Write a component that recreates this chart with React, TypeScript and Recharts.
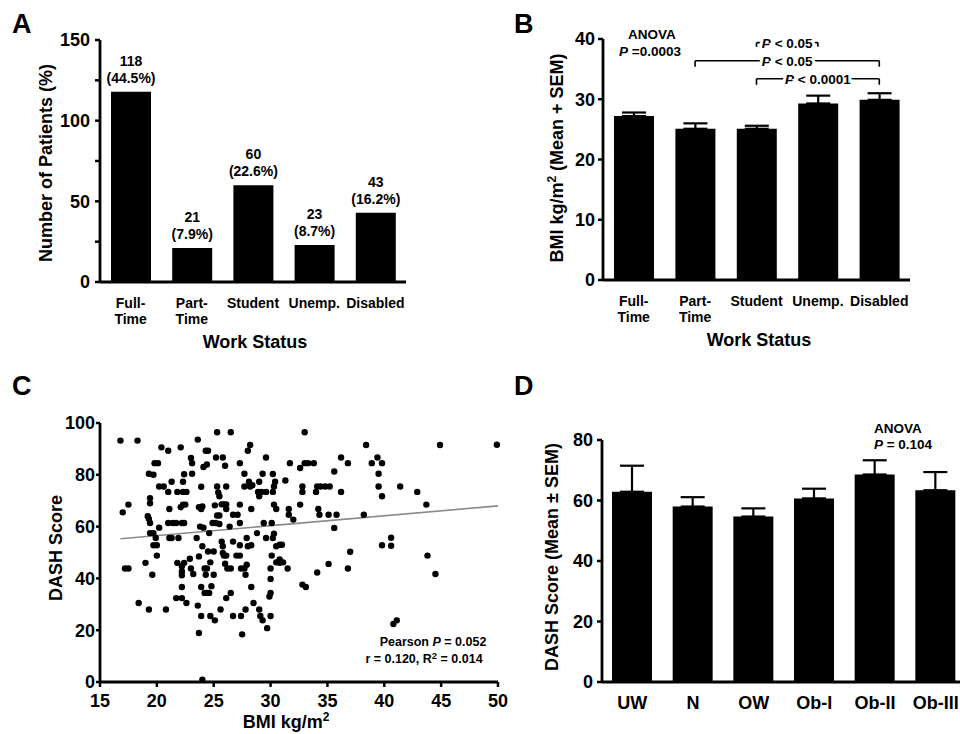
import React from "react";
import {
  BarChart,
  Bar,
  XAxis,
  YAxis,
  ErrorBar,
  LabelList,
  ScatterChart,
  Scatter,
  ReferenceLine,
} from "recharts";

const FONT = '"Liberation Sans", Arial, Helvetica, sans-serif';

// Panel A: work status counts
const workStatus = ["Full-Time", "Part-Time", "Student", "Unemp.", "Disabled"];
const patientCounts = [118, 21, 60, 23, 43];
const patientPct = [44.5, 7.9, 22.6, 8.7, 16.2];
const countTicks = [0, 25, 50, 75, 100, 125, 150];

// Panel B: BMI by work status
const bmiMean = [27.2, 25.1, 25.1, 29.3, 29.9];
const bmiSem = [0.6, 0.9, 0.5, 1.3, 1.1];
const bmiTicks = [0, 10, 20, 30, 40];
const bracketFrom = ["Student", "Part-Time", "Student"];
const bracketTo = ["Unemp.", "Disabled", "Disabled"];
const bracketY = [39.4, 36.4, 33.4];
const bracketTip = [38.7, 35.4, 32.4];
const bracketText = ["< 0.05", "< 0.05", "< 0.0001"];

// Panel C: BMI vs DASH scatter
const scatterBmi = [
  16.8, 17.0, 17.5, 17.2, 17.5, 18.3, 18.4, 19.0, 19.3, 19.2, 19.3, 19.3, 19.7, 19.4, 19.4, 19.4, 19.4, 19.6, 19.7, 19.9,
  19.7, 19.8, 20.1, 20.0, 20.0, 20.2, 20.4, 20.2, 20.6, 20.8, 21.0, 21.0, 21.1, 21.0, 21.4, 21.7, 21.1, 21.3, 21.3, 21.9,
  21.8, 21.7, 22.2, 21.8, 22.1, 22.2, 22.2, 22.2, 22.2, 22.1, 22.3, 22.5, 22.3, 22.4, 22.2, 22.4, 22.4, 22.3, 22.6, 22.6,
  22.9, 23.0, 23.1, 23.0, 23.2, 23.1, 23.6, 23.6, 23.5, 23.7, 23.9, 24.0, 23.7, 23.9, 23.7, 23.9, 23.9, 24.1, 23.8, 24.1,
  24.0, 24.0, 24.2, 24.4, 24.3, 24.5, 24.4, 24.2, 24.4, 24.6, 24.3, 24.5, 24.6, 24.7, 24.7, 24.8, 24.9, 25.2, 25.0, 25.0,
  25.1, 25.1, 25.2, 25.3, 25.3, 25.4, 25.5, 25.3, 25.5, 25.5, 25.6, 25.7, 25.9, 26.1, 25.7, 25.8, 25.8, 25.9, 25.8, 26.0,
  26.0, 26.1, 26.1, 26.1, 26.1, 26.2, 26.5, 26.4, 26.5, 26.5, 26.7, 26.7, 26.7, 27.1, 27.0, 27.3, 27.3, 27.3, 27.3, 27.3,
  27.4, 27.7, 27.4, 27.5, 27.7, 27.7, 27.8, 27.8, 27.9, 27.9, 28.0, 28.2, 28.0, 28.3, 28.1, 28.2, 28.4, 28.3, 28.3, 28.5,
  28.9, 29.2, 29.6, 28.8, 29.0, 29.0, 29.0, 29.1, 29.3, 29.3, 29.4, 29.6, 29.6, 29.7, 29.9, 30.0, 30.0, 30.0, 30.0, 30.1,
  30.2, 30.2, 30.3, 30.3, 30.2, 30.3, 30.1, 30.4, 30.5, 30.5, 30.8, 30.8, 30.5, 30.8, 31.0, 31.1, 31.3, 31.5, 31.6, 31.6,
  31.7, 32.0, 32.6, 32.6, 32.8, 32.8, 32.8, 33.1, 33.0, 33.0, 33.3, 33.8, 34.0, 34.1, 34.4, 34.8, 35.2, 34.1, 34.2, 34.3,
  35.1, 35.1, 35.8, 35.6, 35.6, 36.2, 36.2, 36.8, 36.8, 37.0, 38.2, 38.4, 38.9, 39.4, 39.5, 39.5, 39.8, 39.8, 39.8, 40.6,
  40.6, 40.8, 41.1, 41.4, 42.9, 43.7, 43.8, 44.5, 44.9, 49.9,
];
const scatterDash = [
  93.2, 65.5, 68.5, 43.8, 43.8, 93.2, 30.5, 46.0, 28.0, 64.0, 63.0, 80.4, 80.0, 71.0, 69.0, 61.4, 57.5, 41.4, 57.5, 55.6,
  52.8, 84.5, 84.5, 52.8, 48.8, 59.6, 90.6, 75.5, 75.5, 28.0, 89.3, 73.4, 66.8, 61.4, 61.4, 61.4, 55.6, 55.6, 77.3, 55.6,
  46.0, 32.4, 32.4, 73.4, 90.6, 44.7, 42.7, 41.2, 36.7, 67.5, 68.5, 68.5, 77.3, 80.2, 61.4, 61.4, 46.0, 73.4, 73.4, 30.5,
  47.6, 86.5, 84.5, 43.8, 41.7, 80.4, 29.5, 93.6, 55.6, 67.5, 66.8, 67.8, 18.9, 75.4, 48.5, 36.7, 25.5, 83.0, 60.0, 59.6,
  52.4, 0.9, 43.8, 43.8, 89.3, 89.3, 84.0, 34.4, 34.4, 34.4, 41.4, 50.4, 57.5, 25.5, 46.2, 37.0, 61.4, 61.4, 50.4, 41.4,
  23.8, 68.2, 86.7, 96.4, 75.5, 73.2, 71.7, 64.3, 64.3, 61.0, 28.0, 68.6, 68.6, 68.6, 54.2, 52.4, 49.8, 48.8, 86.7, 45.7,
  83.5, 32.4, 66.8, 75.5, 48.8, 43.8, 43.8, 60.0, 96.4, 34.4, 25.5, 54.2, 64.6, 64.6, 48.8, 48.8, 84.5, 68.5, 61.4, 52.8,
  43.8, 43.8, 25.5, 18.4, 80.4, 75.5, 28.0, 41.4, 45.3, 55.6, 89.3, 91.5, 52.4, 52.8, 77.3, 75.5, 76.0, 66.8, 36.7, 30.5,
  73.4, 73.4, 73.4, 57.5, 71.7, 28.0, 77.3, 25.5, 23.8, 80.4, 61.4, 86.7, 55.6, 20.8, 33.0, 34.4, 43.8, 39.8, 25.5, 61.4,
  80.3, 73.4, 75.5, 68.5, 55.6, 57.3, 48.8, 77.3, 66.8, 46.2, 46.0, 47.3, 52.4, 53.0, 53.0, 46.2, 77.8, 43.8, 66.8, 64.6,
  84.5, 62.7, 82.6, 68.5, 75.5, 73.4, 37.6, 36.7, 96.4, 84.5, 84.5, 84.5, 73.4, 75.5, 75.5, 75.5, 75.5, 42.3, 66.8, 64.6,
  45.6, 64.6, 64.6, 81.3, 59.5, 86.7, 73.4, 84.5, 43.8, 50.3, 64.6, 91.5, 84.5, 86.7, 80.4, 75.5, 84.5, 71.7, 52.8, 55.7,
  52.6, 22.4, 23.8, 75.5, 73.4, 68.5, 48.8, 41.7, 91.5, 91.6,
];
const fitBmi = [16.8, 50];
const fitDash = [55.3, 68.0];
const bmiAxisTicks = [15, 20, 25, 30, 35, 40, 45, 50];
const dashAxisTicks = [0, 20, 40, 60, 80, 100];

// Panel D: DASH by BMI class
const bmiClasses = ["UW", "N", "OW", "Ob-I", "Ob-II", "Ob-III"];
const dashMean = [62.9, 58.0, 54.7, 60.7, 68.6, 63.4];
const dashSem = [8.6, 3.1, 2.7, 3.2, 4.7, 6.0];
const dashBarTicks = [0, 20, 40, 60, 80];

const aData = workStatus.map((s, i) => ({ status: s, count: patientCounts[i], pct: patientPct[i] }));
const bData = workStatus.map((s, i) => ({ status: s, mean: bmiMean[i], err: [0, bmiSem[i]] }));
const cData = scatterBmi.map((x, i) => ({ bmi: x, dash: scatterDash[i] }));
const dData = bmiClasses.map((c, i) => ({ cls: c, mean: dashMean[i], err: [0, dashSem[i]] }));

const axisStyle = { stroke: "#000", strokeWidth: 2.8 };
const tickLineStyle = { stroke: "#000", strokeWidth: 2.5 };
const numTick = { fill: "#000", fontSize: 18, fontWeight: 700, fontFamily: FONT };

function StatusTick(props: any) {
  const { x, y, payload } = props;
  const label = String(payload.value);
  const cut = label.indexOf("-");
  const lines = cut >= 0 ? [label.slice(0, cut + 1), label.slice(cut + 1)] : [label];
  return (
    <text textAnchor="middle" fontSize={14} fontWeight={700} fontFamily={FONT} fill="#000">
      {lines.map((l, i) => (
        <tspan key={i} x={x} y={y + 25.5 + i * 16}>
          {l}
        </tspan>
      ))}
    </text>
  );
}

function CountLabel(props: any) {
  const { x, y, width, value, index } = props;
  const i = typeof index === "number" ? index : patientCounts.indexOf(value);
  const cx = Number(x) + Number(width) / 2;
  return (
    <g fontSize={14} fontWeight={700} fontFamily={FONT} fill="#000">
      <text x={cx} y={Number(y) - 26} textAnchor="middle">
        {value}
      </text>
      <text x={cx} y={Number(y) - 9} textAnchor="middle">
        ({patientPct[i].toFixed(1)}%)
      </text>
    </g>
  );
}

function BracketText(props: any) {
  const vb = props.viewBox || {};
  const cx = (vb.x ?? 0) + (vb.width ?? 0) / 2;
  const cy = (vb.y ?? 0) + (vb.height ?? 0) / 2;
  return (
    <text
      x={cx}
      y={cy + 5}
      textAnchor="middle"
      fontSize={13.5}
      fontWeight={700}
      fontFamily={FONT}
      fill="#000"
      stroke="#fff"
      strokeWidth={6}
      paintOrder="stroke"
    >
      <tspan fontStyle="italic">P</tspan> {props.text}
    </text>
  );
}

const dot = (p: any) => <circle cx={p.cx} cy={p.cy} r={3.2} fill="#000" />;

export default function App() {
  return (
    <div
      style={{
        position: "fixed",
        left: 0,
        top: 0,
        width: 960,
        height: 734,
        overflow: "hidden",
        background: "#fff",
      }}
    >
      {/* A */}
      <div style={{ position: "absolute", left: 0, top: 0 }}>
        <BarChart width={480} height={360} data={aData} margin={{ top: 40, right: 74, left: 40, bottom: 48 }}>
          <XAxis
            dataKey="status"
            height={30}
            interval={0}
            tickLine={false}
            tickSize={0}
            tickMargin={0}
            axisLine={axisStyle}
            tick={<StatusTick />}
          />
          <YAxis
            width={60}
            domain={[0, 150]}
            ticks={countTicks}
            interval={0}
            tickFormatter={(v: number) => (v % 50 === 0 ? String(v) : "")}
            axisLine={axisStyle}
            tickLine={tickLineStyle}
            tickSize={5}
            tickMargin={5}
            tick={numTick}
          />
          <Bar dataKey="count" fill="#000" barSize={40} isAnimationActive={false}>
            <LabelList dataKey="count" content={<CountLabel />} />
          </Bar>
        </BarChart>
      </div>

      {/* B */}
      <div style={{ position: "absolute", left: 480, top: 0 }}>
        <BarChart width={480} height={360} data={bData} margin={{ top: 39, right: 50, left: 63, bottom: 50 }}>
          <XAxis
            dataKey="status"
            height={30}
            interval={0}
            tickLine={false}
            tickSize={0}
            tickMargin={0}
            axisLine={axisStyle}
            tick={<StatusTick />}
          />
          <YAxis
            width={60}
            domain={[0, 40]}
            ticks={bmiTicks}
            interval={0}
            axisLine={axisStyle}
            tickLine={tickLineStyle}
            tickSize={5}
            tickMargin={3}
            tick={numTick}
          />
          <Bar dataKey="mean" fill="#000" barSize={40} isAnimationActive={false}>
            <ErrorBar dataKey="err" direction="y" width={12} stroke="#000" strokeWidth={2.2} isAnimationActive={false} />
          </Bar>
          {bracketFrom.map((from, i) => (
            <React.Fragment key={i}>
              <ReferenceLine
                segment={[
                  { x: from, y: bracketY[i] },
                  { x: bracketTo[i], y: bracketY[i] },
                ]}
                stroke="#000"
                strokeWidth={1.6}
                label={<BracketText text={bracketText[i]} />}
              />
              <ReferenceLine
                segment={[
                  { x: from, y: bracketY[i] },
                  { x: from, y: bracketTip[i] },
                ]}
                stroke="#000"
                strokeWidth={1.6}
              />
              <ReferenceLine
                segment={[
                  { x: bracketTo[i], y: bracketY[i] },
                  { x: bracketTo[i], y: bracketTip[i] },
                ]}
                stroke="#000"
                strokeWidth={1.6}
              />
            </React.Fragment>
          ))}
        </BarChart>
      </div>

      {/* C */}
      <div style={{ position: "absolute", left: 0, top: 380 }}>
        <ScatterChart width={520} height={354} margin={{ top: 43, right: 22, left: 40, bottom: 22 }}>
          <XAxis
            type="number"
            dataKey="bmi"
            domain={[15, 50]}
            ticks={bmiAxisTicks}
            interval={0}
            height={30}
            axisLine={axisStyle}
            tickLine={tickLineStyle}
            tickSize={5}
            tickMargin={7}
            tick={numTick}
          />
          <YAxis
            type="number"
            dataKey="dash"
            domain={[0, 100]}
            ticks={dashAxisTicks}
            interval={0}
            width={60}
            axisLine={axisStyle}
            tickLine={tickLineStyle}
            tickSize={4}
            tickMargin={1}
            tick={numTick}
          />
          <ReferenceLine
            segment={[
              { x: fitBmi[0], y: fitDash[0] },
              { x: fitBmi[1], y: fitDash[1] },
            ]}
            stroke="#8a8a8a"
            strokeWidth={1.6}
          />
          <Scatter data={cData} fill="#000" shape={dot} isAnimationActive={false} />
        </ScatterChart>
      </div>

      {/* D */}
      <div style={{ position: "absolute", left: 480, top: 380 }}>
        <BarChart width={490} height={354} data={dData} margin={{ top: 60, right: 4, left: 62, bottom: 22 }}>
          <XAxis
            dataKey="cls"
            height={30}
            interval={0}
            tickLine={false}
            tickSize={0}
            tickMargin={14}
            axisLine={axisStyle}
            tick={numTick}
          />
          <YAxis
            width={60}
            domain={[0, 80]}
            ticks={dashBarTicks}
            interval={0}
            axisLine={axisStyle}
            tickLine={tickLineStyle}
            tickSize={5}
            tickMargin={4}
            tick={numTick}
          />
          <Bar dataKey="mean" fill="#000" barSize={40} isAnimationActive={false}>
            <ErrorBar dataKey="err" direction="y" width={12} stroke="#000" strokeWidth={2.2} isAnimationActive={false} />
          </Bar>
        </BarChart>
      </div>

      {/* panel letters, axis titles, annotations */}
      <svg
        width={960}
        height={734}
        style={{ position: "absolute", left: 0, top: 0, pointerEvents: "none" }}
        fontFamily={FONT}
        fontWeight={700}
        fill="#000"
      >
        <text x={12} y={33} fontSize={27}>A</text>
        <text x={514} y={33} fontSize={27}>B</text>
        <text x={12} y={395} fontSize={27}>C</text>
        <text x={514} y={395} fontSize={27}>D</text>

        <text transform="translate(52,163) rotate(-90)" textAnchor="middle" fontSize={18}>
          Number of Patients (%)
        </text>
        <text x={255} y={348} textAnchor="middle" fontSize={18}>Work Status</text>

        <text transform="translate(563,158) rotate(-90)" textAnchor="middle" fontSize={18}>
          BMI kg/m<tspan dy={-7} fontSize={12}>2</tspan>
          <tspan dy={7}> (Mean + SEM)</tspan>
        </text>
        <text x={759} y={346} textAnchor="middle" fontSize={18}>Work Status</text>
        <text x={652} y={39} textAnchor="middle" fontSize={13.5}>ANOVA</text>
        <text x={650} y={56} textAnchor="middle" fontSize={13.5}>
          <tspan fontStyle="italic">P</tspan> =0.0003
        </text>

        <text transform="translate(62,548) rotate(-90)" textAnchor="middle" fontSize={18}>
          DASH Score
        </text>
        <text x={286} y={728} textAnchor="middle" fontSize={18}>
          BMI kg/m<tspan dy={-7} fontSize={12}>2</tspan>
        </text>
        <text x={433} y={646} textAnchor="middle" fontSize={12.5}>
          Pearson <tspan fontStyle="italic">P</tspan> = 0.052
        </text>
        <text x={424} y={663} textAnchor="middle" fontSize={12.5}>
          r = 0.120, R<tspan dy={-4} fontSize={9.5}>2</tspan>
          <tspan dy={4}> = 0.014</tspan>
        </text>

        <text transform="translate(558,557) rotate(-90)" textAnchor="middle" fontSize={18}>
          DASH Score (Mean ± SEM)
        </text>
        <text x={898} y={433} textAnchor="middle" fontSize={13.5}>ANOVA</text>
        <text x={903} y={449} textAnchor="middle" fontSize={13.5}>
          <tspan fontStyle="italic">P</tspan> = 0.104
        </text>
      </svg>
    </div>
  );
}
